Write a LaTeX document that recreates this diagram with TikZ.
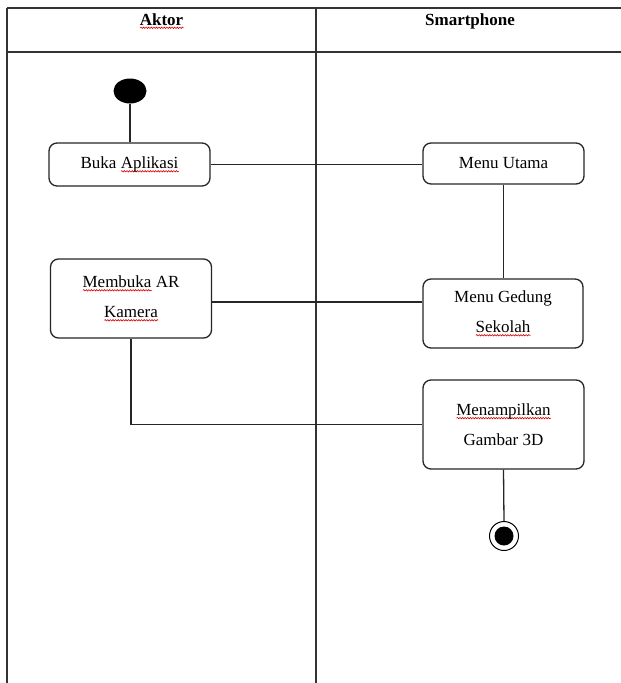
\documentclass[tikz,border=0pt]{standalone}
\usepackage{fontspec}
\setmainfont{Liberation Serif}
\usetikzlibrary{shapes.geometric,decorations.pathmorphing}
\newcommand\spell[1]{\setbox0\hbox{#1}\rlap{\pgfinterruptpicture\tikz[baseline=0pt]\draw[red!85!black,line width=0.6pt,sharp corners,decorate,decoration={snake,amplitude=0.7pt,segment length=2.6pt}] (0pt,-2.8pt)--(\wd0,-2.8pt);\endpgfinterruptpicture}#1}
\begin{document}
\begin{tikzpicture}[x=1pt,y=-1pt,
  act/.style={draw=black!85, line width=1.3pt, rounded corners=8pt, align=center,
    font=\fontsize{17}{30}\selectfont, inner sep=0pt},
  conn/.style={draw=black!85, line width=1.3pt},
  lane/.style={draw=black!80, line width=1.6pt},
  head/.style={font=\fontsize{17}{20}\selectfont\bfseries, inner sep=0pt}]
\useasboundingbox[fill=white] (0,0) rectangle (621,683);
% swimlane table
\draw[lane] (7,8) -- (621,8);
\draw[lane] (7,52) -- (621,52);
\draw[lane] (7,8) -- (7,683);
\draw[lane] (316,8) -- (316,683);
\node[head] (hA) at (161.5,21) {\spell{Aktor}};
\node[head] (hS) at (470,21) {Smartphone};
% start / end
\node[ellipse, fill=black, minimum width=33pt, minimum height=25pt, inner sep=0pt] (start) at (130,91) {};
% activities
\node[act, minimum width=161pt, minimum height=43pt] (buka) at (129.5,164.5) {Buka \spell{Aplikasi}};
\node[act, minimum width=161pt, minimum height=41pt] (menu) at (503.5,163.5) {Menu Utama};
\node[act, minimum width=161pt, minimum height=79pt] (membuka) at (131,298.5) {\spell{Membuka} AR\\\spell{Kamera}};
\node[act, minimum width=160pt, minimum height=69pt] (gedung) at (503,313.5) {Menu Gedung\\\spell{Sekolah}};
\node[act, minimum width=161pt, minimum height=89pt] (tampil) at (503.5,424.5) {\spell{Menampilkan}\\Gambar 3D};
\node[circle, draw=black, line width=1pt, fill=white, minimum size=29pt, inner sep=0pt] (end) at (504,536) {};
\fill (end.center) circle (9.5);
% connectors
\draw[conn] (start.south) -- (start.south |- buka.north);
\draw[conn] (buka.east) -- (buka.east -| menu.west);
\draw[conn] (menu.south) -- (menu.south |- gedung.north);
\draw[conn] (membuka.east |- 0,302) -- (gedung.west |- 0,302);
\draw[conn] (membuka.south) |- (tampil.west);
\draw[conn] (tampil.south) -- (end.north);
\end{tikzpicture}
\end{document}
